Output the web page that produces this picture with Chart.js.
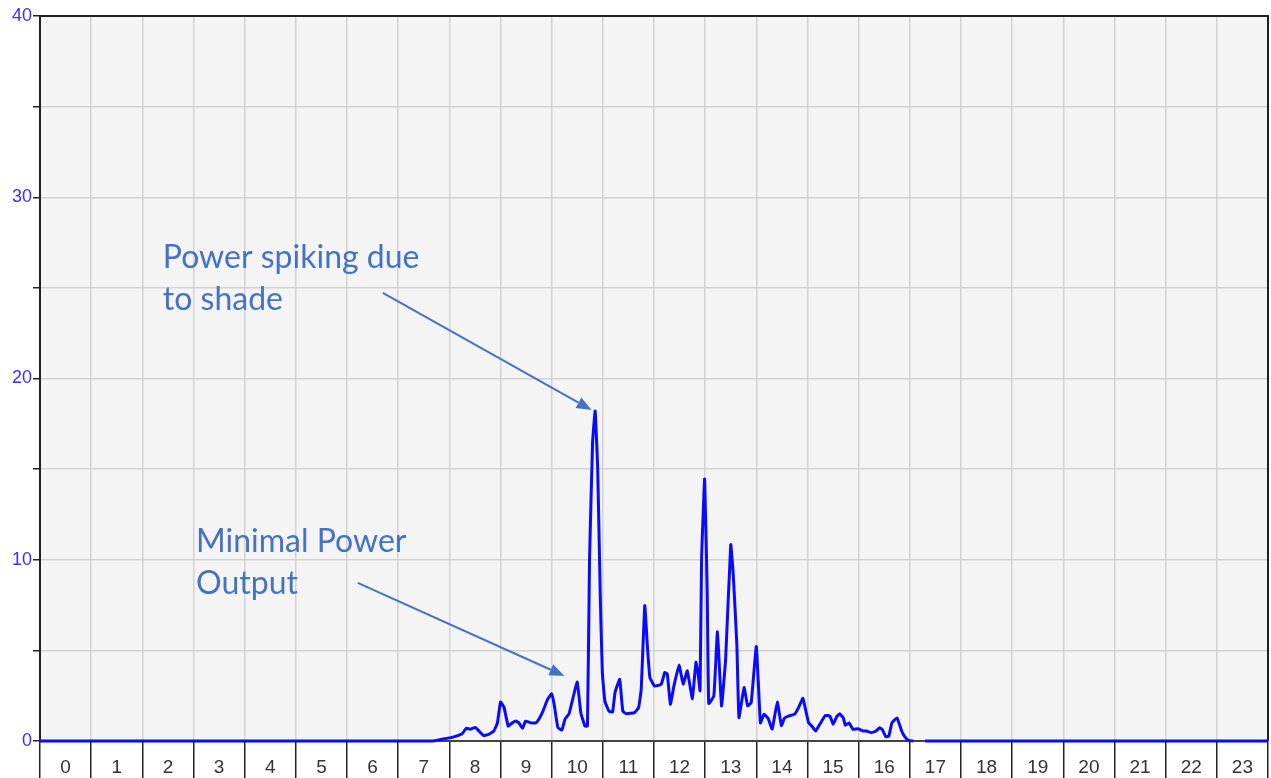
<!DOCTYPE html>
<html>
<head>
<meta charset="utf-8">
<script src="https://cdn.jsdelivr.net/npm/chart.js@4.4.1/dist/chart.umd.min.js"></script>
<style>
  html, body { margin: 0; padding: 0; background: #fff; }
  #wrap { width: 1271px; height: 778px; }
</style>
</head>
<body>
<div id="wrap"><canvas id="power"></canvas></div>
<script>
// hour-of-day labels under the axis
var hourLabels = ['0','1','2','3','4','5','6','7','8','9','10','11','12','13','14','15','16','17','18','19','20','21','22','23'];

// sample times (hours) and power
var sampleHours = [
  0, 7.66, 7.86, 8.05, 8.25, 8.33, 8.41, 8.51, 8.58, 8.67, 8.77, 8.87, 8.94, 9.0, 9.07, 9.15,
  9.23, 9.3, 9.36, 9.43, 9.49, 9.59, 9.69, 9.75, 9.83, 9.92, 10.0, 10.05, 10.12, 10.2, 10.26,
  10.34, 10.41, 10.5, 10.57, 10.65, 10.7, 10.74, 10.8, 10.85, 10.9, 10.95, 10.99, 11.04, 11.12,
  11.19, 11.24, 11.33, 11.39, 11.46, 11.62, 11.7, 11.75, 11.82, 11.87, 11.92, 12.01, 12.14,
  12.21, 12.26, 12.32, 12.39, 12.49, 12.57, 12.65, 12.75, 12.82, 12.86, 12.9, 12.93, 12.99,
  13.04, 13.07, 13.17, 13.24, 13.32, 13.4, 13.5, 13.55, 13.62, 13.66, 13.76, 13.83, 13.9, 14.0,
  14.08, 14.15, 14.23, 14.31, 14.41, 14.49, 14.55, 14.65, 14.75, 14.83, 14.91, 15.02, 15.09,
  15.16, 15.24, 15.35, 15.44, 15.5, 15.57, 15.63, 15.7, 15.74, 15.81, 15.89, 15.99, 16.09,
  16.15, 16.25, 16.34, 16.41, 16.46, 16.53, 16.59, 16.65, 16.75, 16.84, 16.9, 16.97, 17.07,
  17.2, 17.3, 24
];
var powerValues = [
  0, 0, 0.1, 0.2, 0.4, 0.7, 0.65, 0.75, 0.55, 0.3, 0.37, 0.55, 1.0, 2.15, 1.85, 0.83,
  1.0, 1.1, 1.0, 0.7, 1.1, 1.0, 1.0, 1.2, 1.65, 2.3, 2.6, 2.0, 0.75, 0.6, 1.2,
  1.5, 2.3, 3.25, 1.55, 0.83, 0.83, 10.0, 16.5, 18.2, 15.0, 8.0, 3.8, 2.2, 1.65,
  1.6, 2.7, 3.4, 1.65, 1.5, 1.57, 1.85, 2.86, 7.47, 5.26, 3.5, 3.04, 3.12,
  3.78, 3.7, 2.03, 3.04, 4.19, 3.14, 3.87, 2.34, 4.34, 3.78, 2.77, 10.05, 14.45,
  8.2, 2.07, 2.49, 6.03, 1.94, 4.52, 10.83, 9.13, 5.26, 1.29, 2.95, 1.94, 2.12, 5.22,
  1.0, 1.48, 1.25, 0.66, 2.15, 0.85, 1.26, 1.4, 1.48, 1.87, 2.35, 1.02, 0.8,
  0.55, 0.92, 1.41, 1.37, 0.92, 1.34, 1.5, 1.28, 0.86, 1.0, 0.64, 0.68, 0.55,
  0.55, 0.46, 0.55, 0.73, 0.64, 0.24, 0.27, 1.0, 1.28, 0.55, 0.24, 0.04, 0,
  null, 0, 0
];

// callouts, placed in data units
var callouts = [
  { lines: ['Power spiking due', 'to shade'], x: 2.40, y: 26.65, from: [6.70, 24.72], to: [10.78, 18.26] },
  { lines: ['Minimal Power', 'Output'], x: 3.05, y: 10.98, from: [6.21, 8.72], to: [10.25, 3.59] }
];

var points = sampleHours.map(function(h, i) { return { x: h, y: powerValues[i] }; });

var frame = {
  id: 'frame',
  beforeDraw: function(chart) {
    var c = chart.ctx, a = chart.chartArea;
    c.save();
    c.fillStyle = '#f4f4f4';
    c.fillRect(a.left, a.top, a.right - a.left, a.bottom - a.top);
    c.restore();
  },
  beforeDatasetsDraw: function(chart) {
    var c = chart.ctx, a = chart.chartArea;
    c.save();
    c.strokeStyle = '#222';
    c.lineWidth = 2;
    c.beginPath();
    c.moveTo(a.left, a.top);
    c.lineTo(a.right, a.top);
    c.lineTo(a.right, a.bottom);
    c.stroke();
    c.restore();
  },
  afterDatasetsDraw: function(chart) {
    var c = chart.ctx;
    var xs = chart.scales.x, ys = chart.scales.y;
    c.save();
    c.fillStyle = '#4472c4';
    c.strokeStyle = '#4472c4';
    c.font = '32px Lato, "Open Sans", sans-serif';
    c.textBaseline = 'middle';
    callouts.forEach(function(n) {
      var tx = xs.getPixelForValue(n.x), ty = ys.getPixelForValue(n.y);
      n.lines.forEach(function(line, i) { c.fillText(line, tx, ty + i * 42); });
      var x1 = xs.getPixelForValue(n.from[0]), y1 = ys.getPixelForValue(n.from[1]);
      var x2 = xs.getPixelForValue(n.to[0]), y2 = ys.getPixelForValue(n.to[1]);
      var ang = Math.atan2(y2 - y1, x2 - x1);
      var hl = 15, hw = 6;
      var bx = x2 - hl * Math.cos(ang), by = y2 - hl * Math.sin(ang);
      c.lineWidth = 2;
      c.beginPath();
      c.moveTo(x1, y1);
      c.lineTo(bx, by);
      c.stroke();
      c.beginPath();
      c.moveTo(x2, y2);
      c.lineTo(bx + hw * Math.sin(ang), by - hw * Math.cos(ang));
      c.lineTo(bx - hw * Math.sin(ang), by + hw * Math.cos(ang));
      c.closePath();
      c.fill();
    });
    c.restore();
  }
};

new Chart(document.getElementById('power'), {
  type: 'line',
  data: {
    datasets: [{
      data: points,
      xAxisID: 'x',
      yAxisID: 'y',
      borderColor: '#0a0aff',
      borderWidth: 3,
      pointRadius: 0,
      tension: 0.1,
      spanGaps: false,
      clip: false
    }]
  },
  options: {
    responsive: true,
    maintainAspectRatio: false,
    animation: false,
    layout: { padding: { top: 16, right: 3, left: 0, bottom: 0 } },
    plugins: { legend: { display: false }, tooltip: { enabled: false } },
    scales: {
      x: { type: 'linear', min: 0, max: 24, display: false },
      hours: {
        type: 'category',
        labels: hourLabels,
        position: 'bottom',
        offset: true,
        grid: { offset: true, color: '#d2d2d2', lineWidth: 1.5, tickColor: '#222', tickWidth: 1.5, tickLength: 37 },
        border: { color: '#444', width: 2 },
        ticks: { padding: -22, color: '#333', font: { family: 'Arial, "Liberation Sans", sans-serif', size: 19 }, maxRotation: 0, autoSkip: false },
        afterFit: function(s) { s.height = 37; }
      },
      y: {
        min: 0, max: 40,
        grid: { color: '#d2d2d2', lineWidth: 1.5, tickColor: '#222', tickLength: 7 },
        border: { color: '#222', width: 2 },
        ticks: {
          stepSize: 5, padding: 1, color: '#3a2dff',
          font: { family: 'Arial, "Liberation Sans", sans-serif', size: 18 },
          callback: function(v) { return v % 10 === 0 ? v : ''; }
        },
        afterFit: function(s) { s.width = 40; }
      }
    }
  },
  plugins: [frame]
});
</script>
</body>
</html>
